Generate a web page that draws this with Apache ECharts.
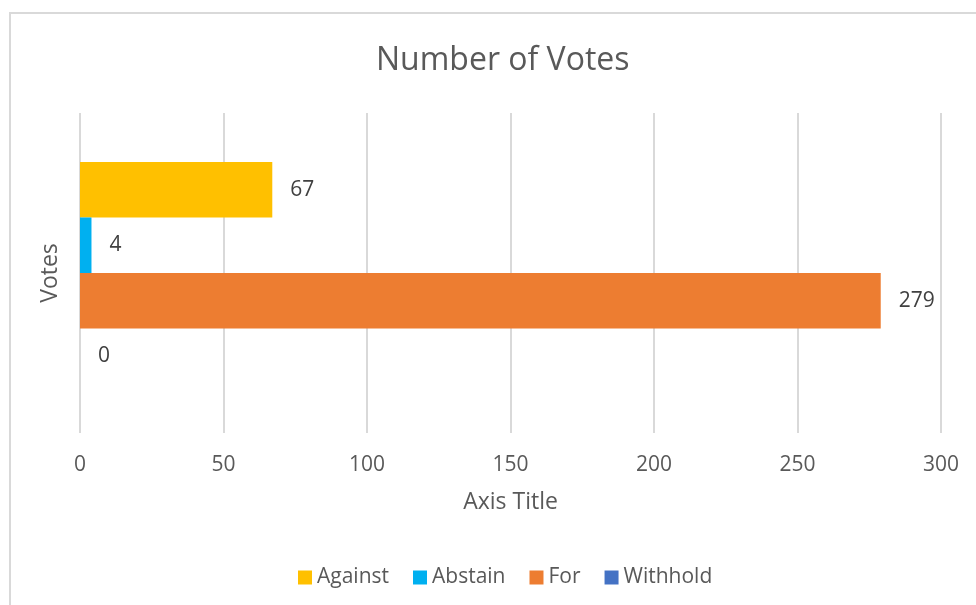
<!DOCTYPE html>
<html>
<head>
<meta charset="utf-8">
<script src="https://cdn.jsdelivr.net/npm/echarts@6/dist/echarts.min.js"></script>
<style>
  html,body{margin:0;padding:0;background:#fff}
  #divApp{width:976px;height:605px}
</style>
</head>
<body>
<div id="divApp"></div>
<script>
// chart data
var categories = ['Votes']
var series_names = ['Against','Abstain','For','Withhold']
var series_colors = ['#FFC000','#00B0F0','#ED7D31','#4472C4']
var against_v = [67]
var abstain_v = [4]
var for_v = [279]
var withhold_v = [0]
var values_by_name = {Against:against_v, Abstain:abstain_v, For:for_v, Withhold:withhold_v}

var font = '"Open Sans", "Noto Sans", sans-serif'

// first series ends up on top in a horizontal group, same as the reference
var series_a = series_names.map((n,i)=>({
  name:n,
  type:'bar',
  data:values_by_name[n],
  barGap:'0%',
  barCategoryGap:'30.6%',
  itemStyle:{color:series_colors[i]},
  label:{show:true,position:'right',distance:18,color:'#404040',fontSize:21,fontFamily:font},
  animation:false
}))

var chart = echarts.init(document.getElementById('divApp'))
chart.setOption({
  animation:false,
  title:{text:'Number of Votes',left:371,top:40,
    textStyle:{color:'#595959',fontSize:32,fontWeight:'normal',fontFamily:font}},
  graphic:[{type:'rect',shape:{x:10,y:13,width:1200,height:1200},
    style:{fill:'none',stroke:'#d9d9d9',lineWidth:2},silent:true}],
  legend:{data:series_names,bottom:12,left:293,itemWidth:14,itemHeight:14,itemGap:24,
    icon:'rect',textStyle:{color:'#595959',fontSize:21,fontFamily:font}},
  grid:{left:80,right:35,top:113,bottom:172},
  xAxis:{type:'value',min:0,max:300,interval:50,
    name:'Axis Title',nameLocation:'middle',nameGap:58,
    nameTextStyle:{color:'#595959',fontSize:23,fontFamily:font},
    axisLine:{show:false},axisTick:{show:false},
    axisLabel:{color:'#595959',fontSize:21,fontFamily:font,margin:22},
    splitLine:{lineStyle:{color:'#d9d9d9',width:2}}},
  yAxis:{type:'category',data:categories,
    name:'Votes',nameLocation:'middle',nameGap:18,nameRotate:90,
    nameTextStyle:{color:'#595959',fontSize:23,fontFamily:font},
    axisLine:{show:false},axisTick:{show:false},axisLabel:{show:false}},
  series:series_a
})
</script>
</body>
</html>
